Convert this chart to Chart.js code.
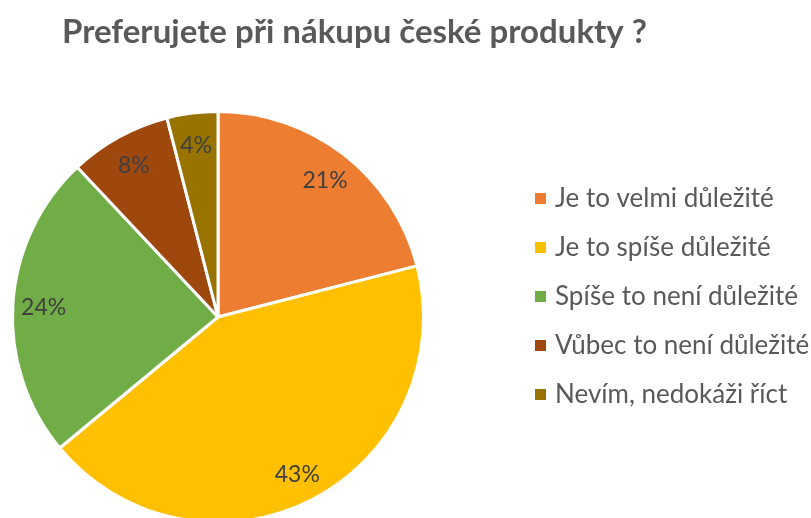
<!DOCTYPE html>
<html>
<head>
<meta charset="utf-8">
<script src="https://cdn.jsdelivr.net/npm/chart.js@4.4.0/dist/chart.umd.min.js"></script>
<style>
  html, body { margin: 0; padding: 0; background: #fff; }
  #wrap { width: 811px; height: 518px; overflow: hidden; position: relative; }
</style>
</head>
<body>
<div id="wrap"><canvas id="myChart" width="811" height="540"></canvas></div>
<script>
const chartTitle = 'Preferujete při nákupu české produkty ?';
const labels = ['Je to velmi důležité', 'Je to spíše důležité', 'Spíše to není důležité', 'Vůbec to není důležité', 'Nevím, nedokáži říct'];
const values = [21, 43, 24, 8, 4];
const colors = ['#ED7D31', '#FFC000', '#70AD47', '#9E480E', '#997300'];

const FONT = 'Lato, "Open Sans", sans-serif';

// title, slice labels and legend drawn on the canvas
const extras = {
  id: 'extras',
  afterDatasetsDraw(chart) {
    const ctx = chart.ctx;
    const meta = chart.getDatasetMeta(0);
    const total = values.reduce((a, b) => a + b, 0);
    ctx.save();
    ctx.fillStyle = '#404040';
    ctx.font = '23px ' + FONT;
    ctx.textAlign = 'center';
    ctx.textBaseline = 'middle';
    meta.data.forEach((arc, i) => {
      const p = arc.getProps(['x', 'y', 'startAngle', 'endAngle', 'outerRadius'], true);
      const mid = (p.startAngle + p.endAngle) / 2;
      const r = p.outerRadius * 0.85;
      ctx.fillText(Math.round(values[i] / total * 100) + '%', p.x + Math.cos(mid) * r, p.y + Math.sin(mid) * r + 2);
    });

    ctx.fillStyle = '#595959';
    ctx.font = 'bold 33px ' + FONT;
    ctx.textAlign = 'left';
    ctx.textBaseline = 'alphabetic';
    ctx.fillText(chartTitle, 62, 43);

    ctx.font = '26px ' + FONT;
    ctx.textBaseline = 'middle';
    labels.forEach((lab, i) => {
      const y = 198 + i * 49;
      ctx.fillStyle = colors[i];
      ctx.fillRect(535, y - 5, 11, 11);
      ctx.fillStyle = '#595959';
      ctx.fillText(lab, 555, y + 1);
    });
    ctx.restore();
  }
};

new Chart(document.getElementById('myChart'), {
  type: 'pie',
  data: {
    labels: labels,
    datasets: [{
      data: values,
      backgroundColor: colors,
      borderColor: '#ffffff',
      borderWidth: 3
    }]
  },
  options: {
    responsive: false,
    animation: false,
    layout: { padding: { left: 11, top: 110, right: 386, bottom: 16 } },
    plugins: {
      legend: { display: false },
      tooltip: { enabled: false },
      title: { display: false }
    }
  },
  plugins: [extras]
});
</script>
</body>
</html>
